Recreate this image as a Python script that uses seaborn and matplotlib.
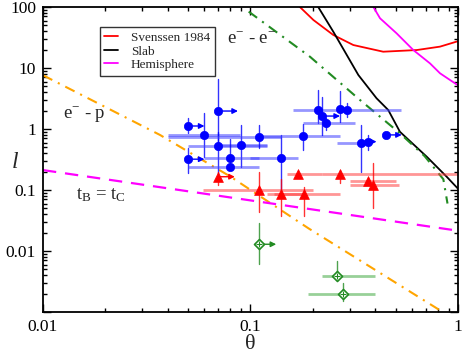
import numpy as np
import pandas as pd
import matplotlib
matplotlib.use("Agg")
import matplotlib.pyplot as plt
import seaborn as sns
from matplotlib.ticker import LogLocator, FixedLocator, FixedFormatter, NullFormatter

# ---------------- curves ----------------
sv_theta = [0.173, 0.201, 0.2506, 0.313, 0.436, 0.633, 0.819, 1.0]
sv_l = [100, 61.2, 34.8, 23.8, 18.5, 19.7, 22.4, 27.5]

slab_theta = [0.212, 0.2506, 0.331, 0.405, 0.461, 0.525, 0.707, 0.882, 1.0]
slab_l = [100, 39.4, 7.67, 3.19, 2.05, 0.90, 0.351, 0.165, 0.105]

hemi_theta = [0.391, 0.421, 0.506, 0.609, 0.733, 0.819, 1.0]
hemi_l = [100, 65.3, 37.0, 19.7, 11.9, 8.19, 5.2]

ee_theta = [0.098, 0.1935, 0.337, 0.525, 0.69, 0.85, 0.89]
ee_l = [84, 15.3, 2.99, 0.85, 0.36, 0.15, 0.06]

ep_theta = [0.01, 0.0366, 0.08, 0.19, 0.79, 0.84]
ep_l = [7.6, 0.80, 0.166, 0.0236, 0.00115, 0.00100]

tb_theta = [0.01, 1.0]
tb_l = [0.212, 0.0215]

# ---------------- blue points ----------------
b_x = [0.050, 0.060, 0.070, 0.070, 0.090, 0.050, 0.080, 0.080, 0.110, 0.140,
       0.180, 0.211, 0.220, 0.231, 0.270, 0.291, 0.340, 0.370, 0.450]
b_y = [1.12, 0.80, 1.97, 0.53, 0.55, 0.32, 0.33, 0.24, 0.75, 0.34,
       0.78, 2.05, 1.63, 1.27, 2.10, 2.05, 0.60, 0.62, 0.80]
b_xlo = [np.nan, 0.040, np.nan, 0.050, 0.070, np.nan, 0.060, 0.050, 0.040, 0.099,
         0.110, 0.160, np.nan, 0.180, np.nan, np.nan, 0.260, np.nan, np.nan]
b_xhi = [np.nan, 0.089, np.nan, 0.120, 0.120, np.nan, 0.110, 0.110, 0.140, 0.170,
         0.270, 0.530, np.nan, 0.320, np.nan, np.nan, 0.380, np.nan, np.nan]
b_ylo = [0.86, 0.35, 0.55, 0.19, 0.24, 0.19, 0.25, np.nan, 0.49, 0.10,
         0.45, 1.25, 0.80, 0.96, 1.32, 1.60, 0.20, 0.45, np.nan]
b_yhi = [1.51, 1.83, 6.6, 0.90, 1.16, 0.49, 0.69, np.nan, 1.16, 0.80,
         1.20, 4.30, 3.40, 1.50, 4.25, 2.70, 1.16, 0.80, np.nan]
b_arrow = [0.060, np.nan, 0.087, np.nan, np.nan, 0.060, np.nan, np.nan, np.nan, np.nan,
           np.nan, np.nan, 0.270, np.nan, np.nan, np.nan, np.nan, 0.405, 0.536]

# ---------------- red triangles ----------------
r_x = [0.070, 0.110, 0.140, 0.170, 0.270, 0.181, 0.370, 0.391]
r_y = [0.165, 0.100, 0.085, 0.181, 0.181, 0.085, 0.140, 0.121]
r_xlo = [np.nan, 0.059, 0.120, 0.150, 0.220, 0.130, 0.300, 0.300]
r_xhi = [np.nan, 0.200, 0.180, 0.220, 1.000, 0.270, 0.500, 0.520]
r_ylo = [0.12, 0.044, 0.037, np.nan, 0.13, 0.037, np.nan, 0.050]
r_yhi = [0.20, 0.200, 0.150, np.nan, 0.21, 0.114, np.nan, 0.280]
r_arrow = [0.084, np.nan, np.nan, np.nan, np.nan, np.nan, np.nan, np.nan]

# ---------------- green diamonds ----------------
g_x = [0.110, 0.260, 0.280]
g_y = [0.0129, 0.0039, 0.00197]
g_xlo = [np.nan, 0.22, 0.19]
g_xhi = [np.nan, 0.40, 0.40]
g_ylo = [0.0061, 0.0036, 0.0015]
g_yhi = [0.029, 0.0068, 0.0030]
g_arrow = [0.133, np.nan, np.nan]

legend_labels = ["Svenssen 1984", "Slab", "Hemisphere"]
x_ticks = [0.01, 0.1, 1]
x_ticklabels = ["0.01", "0.1", "1"]
y_ticks = [0.01, 0.1, 1, 10, 100]
y_ticklabels = ["0.01", "0.1", "1", "10", "100"]

# ---------------- style ----------------
sns.set_style("ticks")
plt.rcParams["font.family"] = ["Liberation Serif", "DejaVu Serif"]
plt.rcParams["mathtext.fontset"] = "custom"
plt.rcParams["mathtext.rm"] = "Liberation Serif"
plt.rcParams["mathtext.it"] = "Liberation Serif:italic"

fig = plt.figure(figsize=(4.63, 3.54), dpi=100)
ax = fig.add_axes([43/463, 42/354, 415/463, 305/354])
ax.set_xscale("log")
ax.set_yscale("log")

def curve(xs, ys, color, label, **kw):
    df = pd.DataFrame({"theta": xs, "l": ys})
    sns.lineplot(data=df, x="theta", y="l", color=color, label=label,
                 sort=False, estimator=None, ax=ax, **kw)

curve(sv_theta, sv_l, "#ff0000", legend_labels[0], lw=1.3)
curve(slab_theta, slab_l, "#000000", legend_labels[1], lw=1.3)
curve(hemi_theta, hemi_l, "#ff00ff", legend_labels[2], lw=1.3)
curve(ee_theta, ee_l, "#228b22", "_ee", lw=1.5, dashes=(5, 3, 1, 3))
curve(ep_theta, ep_l, "#ffa500", "_ep", lw=1.5, dashes=(5, 3, 1, 3))
curve(tb_theta, tb_l, "#ff00ff", "_tb", lw=1.6, dashes=(6, 4))

def errs(xs, ys, xlo, xhi, ylo, yhi, arrows, color, light):
    for i in range(len(xs)):
        x, y = xs[i], ys[i]
        if not np.isnan(xlo[i]):
            ax.plot([xlo[i], xhi[i]], [y, y], color=light, lw=2.0, alpha=0.55,
                    solid_capstyle="butt", zorder=2)
        if not np.isnan(ylo[i]):
            ax.plot([x, x], [ylo[i], yhi[i]], color=color, lw=1.0, alpha=0.8, zorder=2)
        if not np.isnan(arrows[i]):
            ax.annotate("", xy=(arrows[i], y), xytext=(x, y),
                        arrowprops=dict(arrowstyle="-|>", color=color, lw=1.0,
                                        mutation_scale=8, shrinkA=0, shrinkB=0),
                        zorder=3)

errs(b_x, b_y, b_xlo, b_xhi, b_ylo, b_yhi, b_arrow, "#0000ff", "#4040ff")
errs(r_x, r_y, r_xlo, r_xhi, r_ylo, r_yhi, r_arrow, "#ff0000", "#ff4040")
errs(g_x, g_y, g_xlo, g_xhi, g_ylo, g_yhi, g_arrow, "#228b22", "#44aa44")

sns.scatterplot(x=b_x, y=b_y, color="#0000ff", marker="o", s=36, edgecolor="#0000ff",
                linewidth=0.5, ax=ax, zorder=4, legend=False)
sns.scatterplot(x=r_x, y=r_y, color="#ff0000", marker="^", s=50, edgecolor="#ff0000",
                linewidth=0.5, ax=ax, zorder=4, legend=False)
sns.scatterplot(x=g_x, y=g_y, facecolor="white", marker="D", s=26, edgecolor="#228b22",
                linewidth=1.2, ax=ax, zorder=4, legend=False)
sns.scatterplot(x=g_x, y=g_y, color="#228b22", marker="+", s=14,
                linewidth=0.8, ax=ax, zorder=5, legend=False)

ax.set_xlim(0.01, 1)
ax.set_ylim(0.001, 100)

ax.xaxis.set_major_locator(FixedLocator(x_ticks))
ax.xaxis.set_major_formatter(FixedFormatter(x_ticklabels))
ax.yaxis.set_major_locator(FixedLocator(y_ticks + [0.001]))
ax.yaxis.set_major_formatter(FixedFormatter(y_ticklabels + [""]))
ax.xaxis.set_minor_locator(LogLocator(base=10, subs=np.arange(2, 10)))
ax.yaxis.set_minor_locator(LogLocator(base=10, subs=np.arange(2, 10)))
ax.xaxis.set_minor_formatter(NullFormatter())
ax.yaxis.set_minor_formatter(NullFormatter())
ax.tick_params(which="both", direction="in", top=True, right=True,
               labelsize=12.5, width=1.0, colors="black")
ax.tick_params(which="major", length=6, pad=5)
ax.tick_params(which="minor", length=3)
for lbl in ax.get_xticklabels() + ax.get_yticklabels():
    lbl.set_fontfamily(["Liberation Serif", "DejaVu Serif"])
for s in ax.spines.values():
    s.set_linewidth(1.3)
    s.set_color("black")

ax.set_xlabel("θ", fontsize=16)
ax.xaxis.set_label_coords(0.5, -0.108)
ax.xaxis.label.set_va("center")
ax.set_ylabel("$\\mathit{l}$", fontsize=17, rotation=0, va="center", ha="center")
ax.yaxis.set_label_coords(-0.067, 0.49)

ax.text(0.077, 29, r"$\mathrm{e}^{-}$ - $\mathrm{e}^{-}$", fontsize=13.5, va="center", ha="left")
ax.text(0.0125, 1.70, r"$\mathrm{e}^{-}$ - p", fontsize=13.5, va="center", ha="left")
ax.text(0.0145, 0.083, r"t$_{\mathrm{B}}$ = t$_{\mathrm{C}}$", fontsize=13.5, va="center", ha="left")

handles, labels = ax.get_legend_handles_labels()
keep = [(h, l) for h, l in zip(handles, labels) if l in legend_labels]
leg = ax.legend([h for h, l in keep], [l for h, l in keep],
                loc="upper left", bbox_to_anchor=(0.137, 0.934), borderaxespad=0,
                fontsize=9.5, frameon=True, fancybox=False, handlelength=1.0,
                handletextpad=1.0, labelspacing=0.1, borderpad=0.35)
leg.get_frame().set_edgecolor("black")
leg.get_frame().set_linewidth(1.0)

fig.savefig("out.png", dpi=100)
